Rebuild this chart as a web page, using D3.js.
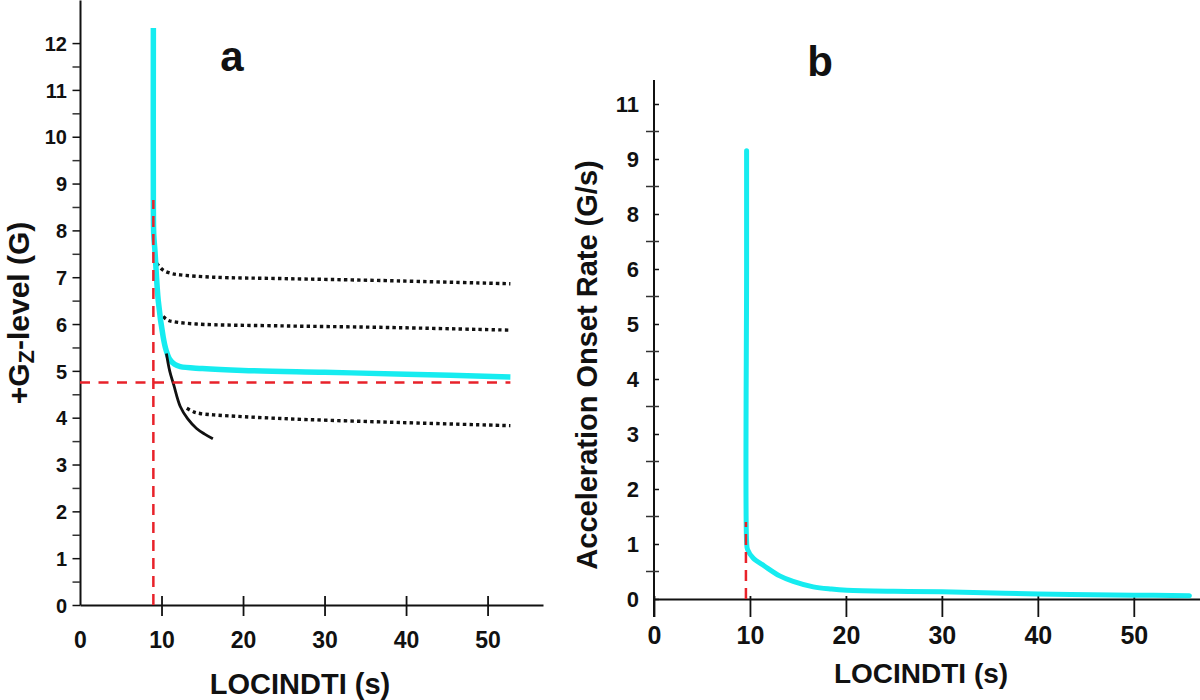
<!DOCTYPE html>
<html><head><meta charset="utf-8">
<script src="https://cdn.jsdelivr.net/npm/d3@7"></script>
<style>
html,body{margin:0;padding:0;background:#fff;}
text{font-family:"Liberation Sans",Arial,sans-serif;font-weight:bold;fill:#111;}
</style></head>
<body><svg id="chart" width="1200" height="700"></svg>
<script>
// ---------- Panel a data ----------
const aXTicks = [0, 10, 20, 30, 40, 50];
const aYTicks = [0,1,2,3,4,5,6,7,8,9,10,11,12];
const aCyan = [[9.0,12.32],[9.0,8.6],[9.05,7.9],[9.2,7.55],[9.6,6.5],[10.2,5.73],[10.55,5.45],[11.0,5.25],[11.6,5.14],[12.3,5.09],[15,5.05],[20,5.01],[30,4.97],[40,4.93],[52.8,4.87]];
const aDot1 = [[9.4,7.30],[10.2,7.15],[11.2,7.08],[12.3,7.05],[16.4,7.0],[25,6.97],[36.8,6.93],[52.8,6.86]];
const aDot2 = [[10.2,6.16],[10.8,6.08],[11.45,6.05],[14.3,6.0],[25,5.96],[36.8,5.93],[52.8,5.87]];
const aDot3 = [[13.1,4.2],[14.0,4.12],[14.7,4.09],[16.4,4.06],[25,3.98],[36.8,3.91],[52.8,3.83]];
const aBlack = [[10.6,5.37],[11.0,5.0],[11.5,4.7],[12.3,4.24],[13.2,3.98],[14.3,3.77],[15.3,3.65],[16.3,3.55]];
const aRedV = [[9.0,0],[9.0,8.65]];
const aRedH = [[0,4.75],[52.8,4.75]];

// ---------- Panel b data ----------
const bXTicks = [0, 10, 20, 30, 40, 50];
const bYTicks = [0,1,2,3,4,5,6,8,9,11];   // printed labels (evenly spaced on the axis)
const bCyan = [[9.65,9.3],[9.65,6],[9.65,1.05],[9.75,0.9],[10.35,0.74],[11.5,0.6],[13.1,0.42],[14.5,0.32],[16.6,0.22],[18.5,0.18],[20.1,0.16],[25,0.14],[30,0.13],[40,0.09],[50,0.07],[55.8,0.06]];
const bRedV = [[9.58,0],[9.58,1.4]];

const svg = d3.select("#chart");
svg.append("rect").attr("width",1200).attr("height",700).attr("fill","#fff");

const CYAN = "#16ecf0", RED = "#e8222a";
const FONT = "Liberation Sans, Arial, sans-serif";

// ================= Panel a =================
const xA = d3.scaleLinear().domain([0,56.8]).range([80,543]);
const yA = d3.scaleLinear().domain([0,12.92]).range([605,0]);
const gA = svg.append("g");

const yAxA = gA.append("g").attr("transform","translate(80,0)")
  .call(d3.axisLeft(yA).tickValues(aYTicks).tickSize(7.5).tickSizeOuter(0));
yAxA.select(".domain").attr("stroke","#111").attr("stroke-width",2);
yAxA.selectAll(".tick line").attr("stroke","#111").attr("stroke-width",1.5);
yAxA.selectAll(".tick text").attr("x",-13).attr("dy","0.36em").attr("font-size",20).attr("font-family",FONT).attr("font-weight","bold").attr("fill","#111");
gA.append("g").attr("transform","translate(80,0)")
  .call(d3.axisLeft(yA).tickValues(d3.range(0.5,12,1)).tickSize(7.5).tickFormat(""))
  .call(g=>g.select(".domain").remove())
  .selectAll(".tick line").attr("stroke","#333").attr("stroke-width",1.5);

const xAxA = gA.append("g").attr("transform","translate(0,605)")
  .call(d3.axisBottom(xA).tickValues(aXTicks).tickSize(11).tickSizeOuter(0));
xAxA.select(".domain").attr("stroke","#111").attr("stroke-width",2);
xAxA.selectAll(".tick line").attr("y1",-9).attr("stroke","#111").attr("stroke-width",1.8)
  .attr("display",d=>d===0?"none":null);
xAxA.selectAll(".tick text").attr("y",35).attr("dy","0.36em").attr("font-size",23).attr("font-family",FONT).attr("font-weight","bold").attr("fill","#111");

const lineA = d3.line().x(d=>xA(d[0])).y(d=>yA(d[1]));
const smoothA = d3.line().x(d=>xA(d[0])).y(d=>yA(d[1])).curve(d3.curveCatmullRom.alpha(0.5));

[aDot1,aDot2,aDot3].forEach(s=>{
  gA.append("path").attr("d",smoothA(s)).attr("fill","none").attr("stroke","#111")
    .attr("stroke-width",3.4).attr("stroke-dasharray","3.4,3.2");
});
gA.append("path").attr("d",smoothA(aCyan)).attr("fill","none").attr("stroke",CYAN).attr("stroke-width",5.5).attr("stroke-linejoin","round");
gA.append("path").attr("d",smoothA(aBlack)).attr("fill","none").attr("stroke","#111").attr("stroke-width",2.8);
gA.append("path").attr("d",lineA(aRedV)).attr("fill","none").attr("stroke",RED).attr("stroke-width",2.5).attr("stroke-dasharray","11,7");
gA.append("path").attr("d",lineA(aRedH)).attr("fill","none").attr("stroke",RED).attr("stroke-width",2.5).attr("stroke-dasharray","10,8.5");

gA.append("text").attr("x",300).attr("y",694).attr("text-anchor","middle").style("font-size","29px").text("LOCINDTI (s)");
const tA = gA.append("text").attr("transform","translate(29,313) rotate(-90)").attr("text-anchor","middle").style("font-size","30px");
tA.append("tspan").text("+G");
tA.append("tspan").attr("dy",5).style("font-size","22px").text("Z");
tA.append("tspan").attr("dy",-5).text("-level (G)");
gA.append("text").attr("x",232).attr("y",71).attr("text-anchor","middle").style("font-size","42px").text("a");

// ================= Panel b =================
const xB = d3.scaleLinear().domain([0,56.9]).range([654,1200]);
const bPos = bYTicks.map((d,i)=>599 - i*55);
const yB = d3.scaleLinear().domain(bYTicks).range(bPos);
const gB = svg.append("g");

gB.append("line").attr("x1",654).attr("x2",654).attr("y1",80).attr("y2",617).attr("stroke","#111").attr("stroke-width",2);
const yAxB = gB.append("g").attr("transform","translate(654,0)")
  .call(d3.axisLeft(yB).tickValues(bYTicks).tickSize(8).tickFormat(d3.format("d")));
yAxB.select(".domain").remove();
yAxB.selectAll(".tick line").attr("x2",5).attr("stroke","#111").attr("stroke-width",1.5);
yAxB.selectAll(".tick text").attr("x",-15).attr("dy","0.36em").attr("font-size",22).attr("font-family",FONT).attr("font-weight","bold").attr("fill","#111");
const bMinor = bYTicks.slice(0,-1).map((d,i)=>yB.invert((yB(d)+yB(bYTicks[i+1]))/2));
gB.selectAll("line.minor").data(bMinor).join("line").attr("class","minor")
  .attr("x1",646).attr("x2",659).attr("y1",d=>yB(d)).attr("y2",d=>yB(d)).attr("stroke","#333").attr("stroke-width",1.5);

const xAxB = gB.append("g").attr("transform","translate(0,599)")
  .call(d3.axisBottom(xB).tickValues(bXTicks).tickSize(18).tickSizeOuter(0));
xAxB.select(".domain").attr("stroke","#111").attr("stroke-width",2);
xAxB.selectAll(".tick line").attr("y1",-3).attr("stroke","#111").attr("stroke-width",1.8);
xAxB.selectAll(".tick text").attr("y",36).attr("dy","0.36em").attr("font-size",25).attr("font-family",FONT).attr("font-weight","bold").attr("fill","#111");

const lineB = d3.line().x(d=>xB(d[0])).y(d=>yB(d[1]));
const smoothB = d3.line().x(d=>xB(d[0])).y(d=>yB(d[1])).curve(d3.curveCatmullRom.alpha(0.5));
gB.append("path").attr("d",smoothB(bCyan)).attr("fill","none").attr("stroke",CYAN).attr("stroke-width",5).attr("stroke-linejoin","round").attr("stroke-linecap","round");
gB.append("path").attr("d",lineB(bRedV)).attr("fill","none").attr("stroke",RED).attr("stroke-width",2.5).attr("stroke-dasharray","11,7");

gB.append("text").attr("x",921).attr("y",683).attr("text-anchor","middle").style("font-size","28px").text("LOCINDTI (s)");
gB.append("text").attr("transform","translate(597,365) rotate(-90)").attr("text-anchor","middle").style("font-size","29px").text("Acceleration Onset Rate (G/s)");
gB.append("text").attr("x",820).attr("y",76).attr("text-anchor","middle").style("font-size","42px").text("b");
</script></body></html>
